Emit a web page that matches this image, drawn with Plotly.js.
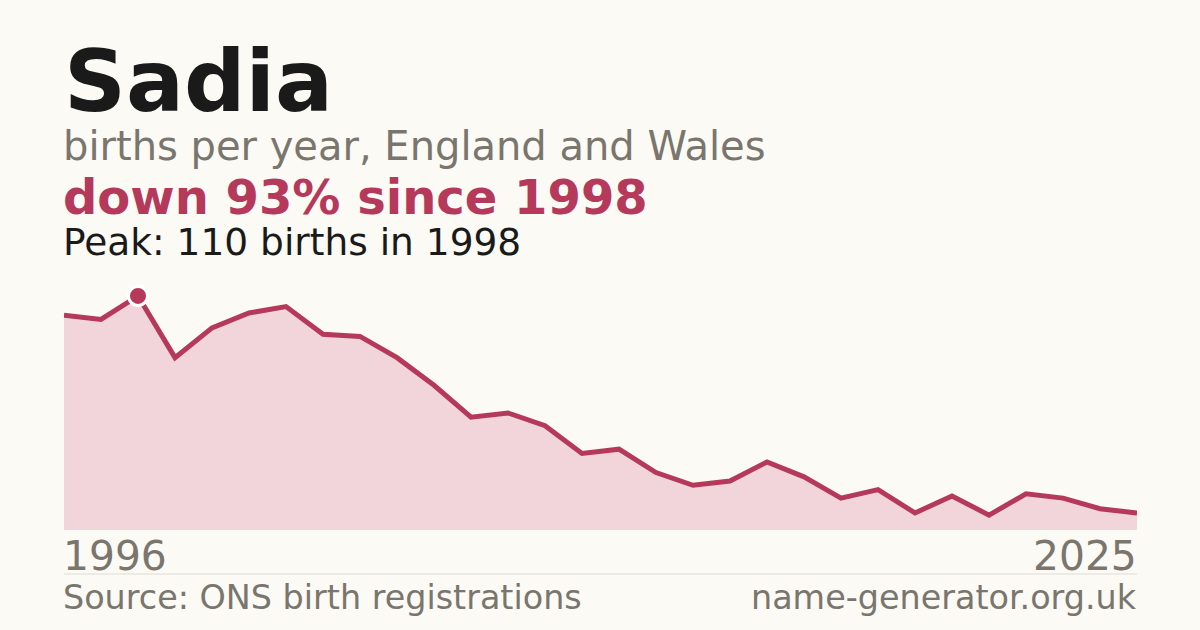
<!DOCTYPE html>
<html>
<head>
<meta charset="utf-8">
<script src="https://cdn.plot.ly/plotly-3.0.1.min.js"></script>
<style>
  html, body { margin: 0; padding: 0; background: #fbfaf5; }
  #chart { width: 1200px; height: 630px; }
</style>
</head>
<body>
<div id="chart"></div>
<script>
// data
const years = [
  1996, 1997, 1998, 1999, 2000, 2001, 2002, 2003, 2004, 2005,
  2006, 2007, 2008, 2009, 2010, 2011, 2012, 2013, 2014, 2015,
  2016, 2017, 2018, 2019, 2020, 2021, 2022, 2023, 2024, 2025,
];
const births = [
  101, 99, 110, 81, 95, 102, 105, 92, 91, 81,
  68, 53, 55, 49, 36, 38, 27, 21, 23, 32,
  25, 15, 19, 8, 16, 7, 17, 15, 10, 8,
];
const peakYear = [1998];
const peakBirths = [110];

const crimson = "#b5395a";
const grey = "#7a756d";
const font = "DejaVu Sans, sans-serif";

const area = {
  x: years,
  y: births,
  type: "scatter",
  mode: "lines",
  fill: "tozeroy",
  fillcolor: "#f2d5db",
  line: { color: crimson, width: 5 },
  hoverinfo: "skip",
};

const peak = {
  x: peakYear,
  y: peakBirths,
  type: "scatter",
  mode: "markers",
  marker: { color: crimson, size: 19, line: { color: "#ffffff", width: 3 } },
  hoverinfo: "skip",
};

// paper y is relative to the plot area (top 280px, bottom 530px)
const layout = {
  width: 1200,
  height: 630,
  margin: { t: 280, l: 64, r: 63, b: 100 },
  paper_bgcolor: "#fbfaf5",
  plot_bgcolor: "rgba(0,0,0,0)",
  showlegend: false,
  xaxis: {
    range: [years[0], years[years.length - 1]],
    showgrid: false,
    zeroline: false,
    showticklabels: false,
    fixedrange: true,
  },
  yaxis: {
    range: [0, 117.5],
    showgrid: false,
    zeroline: false,
    showticklabels: false,
    fixedrange: true,
  },
  shapes: [
    {
      type: "line",
      xref: "paper", yref: "paper",
      x0: 0, x1: 1, y0: -0.176, y1: -0.176,
      line: { color: "#dedbd4", width: 1 },
    },
  ],
  annotations: [
    {
      text: "<b>Sadia</b>",
      xref: "paper", yref: "paper", x: 0, y: 1.796, xshift: -2,
      xanchor: "left", yanchor: "middle", showarrow: false,
      font: { family: font, size: 86, color: "#1a1a1a" },
    },
    {
      text: "births per year, England and Wales",
      xref: "paper", yref: "paper", x: 0, y: 1.536, xshift: -3,
      xanchor: "left", yanchor: "middle", showarrow: false,
      font: { family: font, size: 40, color: grey },
    },
    {
      text: "<b>down 93% since 1998</b>",
      xref: "paper", yref: "paper", x: 0, y: 1.334, xshift: -3,
      xanchor: "left", yanchor: "middle", showarrow: false,
      font: { family: font, size: 48, color: crimson },
    },
    {
      text: "Peak: 110 births in 1998",
      xref: "paper", yref: "paper", x: 0, y: 1.152, xshift: -3,
      xanchor: "left", yanchor: "middle", showarrow: false,
      font: { family: font, size: 37.5, color: "#1a1a1a" },
    },
    {
      text: String(years[0]),
      xref: "x", yref: "paper", x: years[0], y: -0.104, xshift: -3,
      xanchor: "left", yanchor: "middle", showarrow: false,
      font: { family: font, size: 40.8, color: grey },
    },
    {
      text: String(years[years.length - 1]),
      xref: "x", yref: "paper", x: years[years.length - 1], y: -0.104, xshift: 2,
      xanchor: "right", yanchor: "middle", showarrow: false,
      font: { family: font, size: 40.8, color: grey },
    },
    {
      text: "Source: ONS birth registrations",
      xref: "paper", yref: "paper", x: 0, y: -0.2704, xshift: -3,
      xanchor: "left", yanchor: "middle", showarrow: false,
      font: { family: font, size: 33.4, color: grey },
    },
    {
      text: "name-generator.org.uk",
      xref: "paper", yref: "paper", x: 1, y: -0.2704, xshift: 2,
      xanchor: "right", yanchor: "middle", showarrow: false,
      font: { family: font, size: 33.4, color: grey },
    },
  ],
};

const config = { displayModeBar: false, staticPlot: true };

Plotly.newPlot("chart", [area, peak], layout, config);
</script>
</body>
</html>
